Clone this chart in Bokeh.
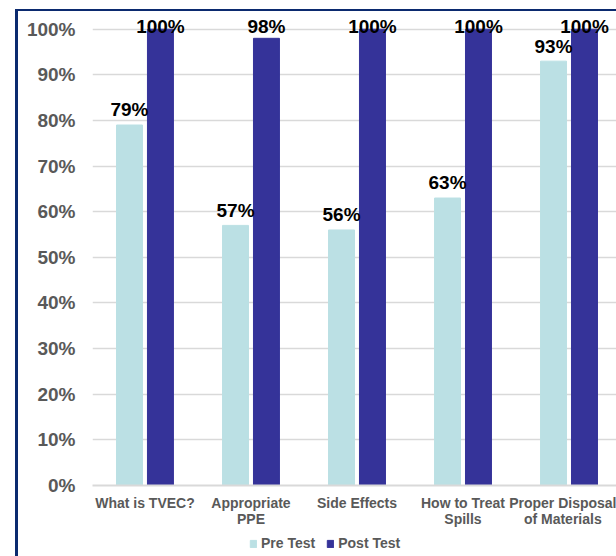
from bokeh.plotting import figure
from bokeh.models import (Range1d, FixedTicker, PrintfTickFormatter, Legend,
                          LegendItem, ColumnDataSource)
from bokeh.layouts import column
from bokeh.core.properties import value
from bokeh.embed import file_html
from bokeh.resources import INLINE
import numpy as np

categories = ["What is TVEC?", "Appropriate\nPPE", "Side Effects",
              "How to Treat\nSpills", "Proper Disposal\nof Materials"]
pre_test = [79, 57, 56, 63, 93]
post_test = [100, 98, 100, 100, 100]
y_ticks = [0, 10, 20, 30, 40, 50, 60, 70, 80, 90, 100]
series_names = ["Pre Test", "Post Test"]

PRE_COLOR = "#BBE0E4"
POST_COLOR = "#353399"
BORDER_COLOR = "#0B2A6F"
FONT = "Liberation Sans"

idx = np.arange(len(categories))
off = 0.146
bw = 0.245

pre = np.array(pre_test, dtype=float)
post = np.array(post_test, dtype=float)

src = ColumnDataSource(dict(
    xpre=idx - off, xpost=idx + off, pre=pre, post=post,
    pre_lab=[f"{v:.0f}%" for v in pre], post_lab=[f"{v:.0f}%" for v in post],
    pre_ly=np.minimum(pre + 3.3, 100.6), post_ly=np.minimum(post + 3.3, 100.6),
))

W = 598
p = figure(width=W, height=520, x_range=Range1d(-0.495, 4.448),
           y_range=Range1d(0, 103), output_backend="svg", toolbar_location=None,
           min_border_left=74, min_border_right=0, min_border_top=4,
           min_border_bottom=46)
p.outline_line_color = None
p.background_fill_color = "white"
p.border_fill_color = "white"

r1 = p.vbar(x="xpre", top="pre", width=bw, source=src, color=PRE_COLOR)
r2 = p.vbar(x="xpost", top="post", width=bw, source=src, color=POST_COLOR)

for col_x, col_y, col_t in (("xpre", "pre_ly", "pre_lab"), ("xpost", "post_ly", "post_lab")):
    p.text(x=col_x, y=col_y, text=col_t, source=src, text_align="center",
           text_baseline="alphabetic", text_font=value(FONT),
           text_font_style="bold", text_font_size="19px", text_color="black")

p.yaxis.ticker = FixedTicker(ticks=y_ticks)
p.yaxis.formatter = PrintfTickFormatter(format="%d%%")
p.yaxis.axis_line_color = None
p.yaxis.major_tick_line_color = None
p.yaxis.minor_tick_line_color = None
p.yaxis.major_tick_out = 0
p.yaxis.major_tick_in = 0
p.yaxis.major_label_standoff = 17
p.yaxis.major_label_text_font = FONT
p.yaxis.major_label_text_font_style = "bold"
p.yaxis.major_label_text_font_size = "19px"
p.yaxis.major_label_text_color = "#595959"

p.xaxis.ticker = FixedTicker(ticks=list(idx))
p.xaxis.major_label_overrides = {int(i): c for i, c in zip(idx, categories)}
p.xaxis.axis_line_color = "#D9D9D9"
p.xaxis.axis_line_width = 2
p.xaxis.major_tick_line_color = None
p.xaxis.minor_tick_line_color = None
p.xaxis.major_tick_out = 0
p.xaxis.major_tick_in = 0
p.xaxis.major_label_standoff = 9
p.xaxis.major_label_text_font = FONT
p.xaxis.major_label_text_font_style = "bold"
p.xaxis.major_label_text_font_size = "14px"
p.xaxis.major_label_text_line_height = 1.0
p.xaxis.major_label_text_color = "#595959"

p.xgrid.grid_line_color = None
p.ygrid.ticker = FixedTicker(ticks=y_ticks)
p.ygrid.grid_line_color = "#D9D9D9"
p.ygrid.grid_line_width = 1.5

# legend strip below the chart (its own small plot holding the legend)
leg = figure(width=W, height=25, x_range=(0, 1), y_range=(1000, 2000),
             output_backend="svg", toolbar_location=None,
             min_border=0, min_border_left=0, min_border_right=0,
             min_border_top=0, min_border_bottom=0)
leg.axis.visible = False
leg.grid.visible = False
leg.outline_line_color = None
leg.background_fill_color = "white"
leg.border_fill_color = "white"
lr1 = leg.vbar(x="xpre", top="pre", width=bw, source=src, color=PRE_COLOR)
lr2 = leg.vbar(x="xpost", top="post", width=bw, source=src, color=POST_COLOR)

legend = Legend(items=[LegendItem(label=series_names[0], renderers=[lr1]),
                       LegendItem(label=series_names[1], renderers=[lr2])],
                orientation="horizontal", location=(157, 5))
legend.border_line_color = None
legend.background_fill_alpha = 0
legend.padding = 0
legend.margin = 0
legend.spacing = 11
legend.label_standoff = 4
legend.glyph_width = 8
legend.glyph_height = 9
legend.label_height = 12
legend.label_text_font = FONT
legend.label_text_font_style = "bold"
legend.label_text_font_size = "14px"
legend.label_text_color = "#595959"
leg.add_layout(legend, "center")

layout = column(p, leg, spacing=0, margin=(9, 0, 0, 15),
                styles={"border-left": f"3px solid {BORDER_COLOR}",
                        "border-top": f"2px solid {BORDER_COLOR}"})

open("out.html", "w").write(file_html(layout, INLINE))
